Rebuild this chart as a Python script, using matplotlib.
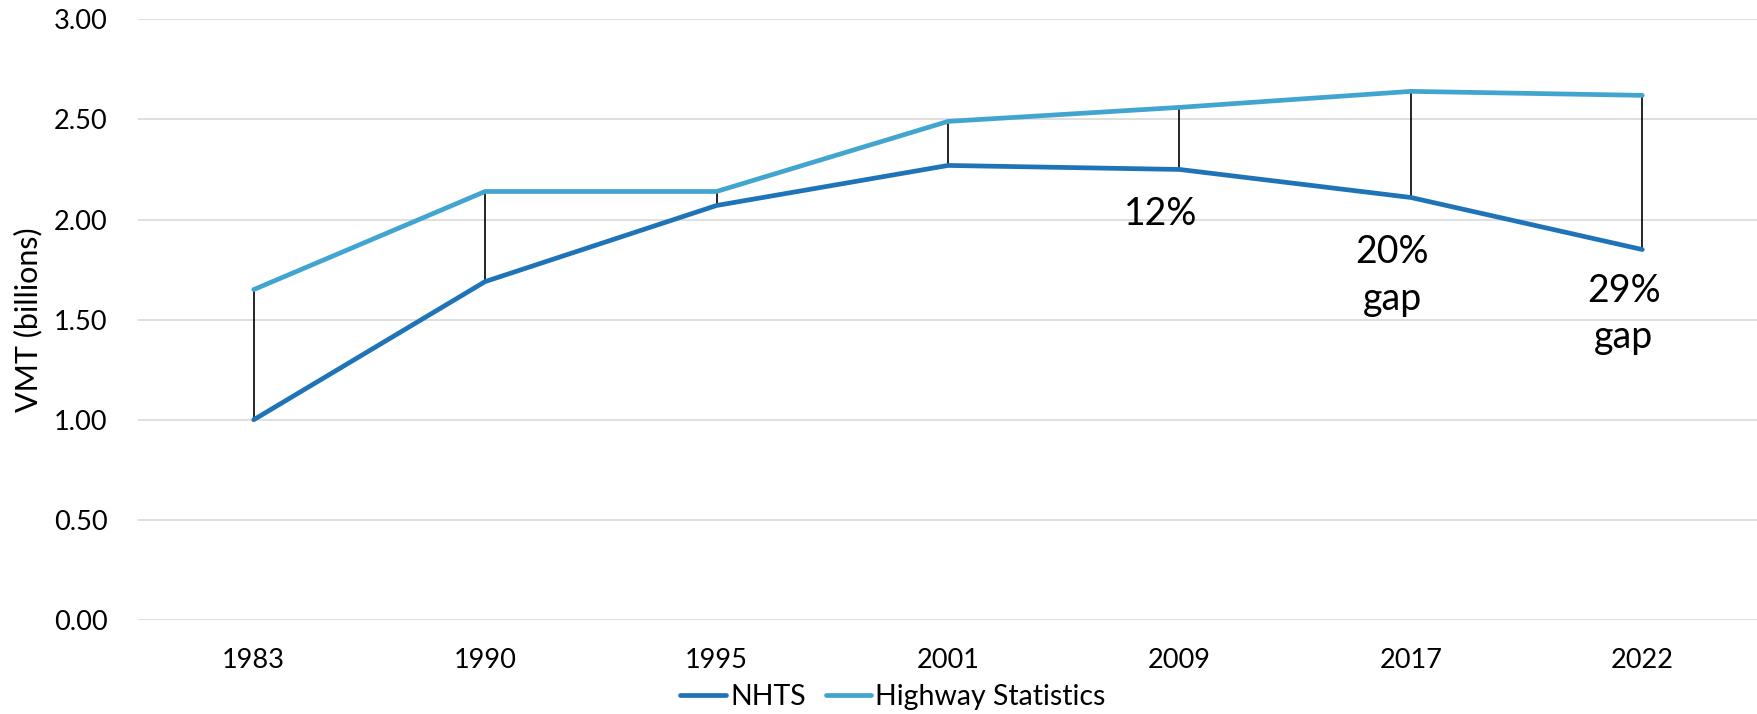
import numpy as np
import matplotlib
matplotlib.use('Agg')
import matplotlib.pyplot as plt

plt.rcParams['font.family'] = ['Lato', 'DejaVu Sans']

years = ['1983', '1990', '1995', '2001', '2009', '2017', '2022']
nhts = [1.00, 1.69, 2.07, 2.27, 2.25, 2.11, 1.85]
highway = [1.65, 2.14, 2.14, 2.49, 2.56, 2.64, 2.62]

# gap labels: (year index, label y, text suffix)
gap_notes = [(4, 2.03, ''), (5, 1.72, '\ngap'), (6, 1.53, '\ngap')]

nhts_color = '#1F74B8'
hw_color = '#42A5D0'

fig = plt.figure(figsize=(17.58, 7.14), dpi=100)
ax = fig.add_axes([0.0785, 0.1317, 0.9215, 0.8413])

x = np.arange(len(years))

# vertical connectors between the two series
for i in x:
    ax.plot([i, i], [nhts[i], highway[i]], color='black', linewidth=1.2, zorder=2)

ax.plot(x, nhts, color=nhts_color, linewidth=3.4, solid_capstyle='round', label='NHTS', zorder=3)
ax.plot(x, highway, color=hw_color, linewidth=3.4, solid_capstyle='round', label='Highway Statistics', zorder=3)

for i, ty, suffix in gap_notes:
    pct = round((highway[i] - nhts[i]) / highway[i] * 100)
    ax.text(i - 0.08, ty, f'{pct}%' + suffix, ha='center', va='center',
            fontsize=27, linespacing=1.35, color='black')

ax.set_xlim(-0.5, len(years) - 0.5)
ax.set_ylim(0, 3)
ax.set_yticks(np.arange(0, 3.01, 0.5))
ax.set_yticklabels([f'{v:.2f}' for v in np.arange(0, 3.01, 0.5)])
ax.set_xticks(x)
ax.set_xticklabels(years)
ax.tick_params(axis='both', length=0, labelsize=19.5)
ax.tick_params(axis='x', pad=20)
ax.tick_params(axis='y', pad=22)
ax.yaxis.grid(True, color='#D9D9D9', linewidth=1.2)
ax.set_axisbelow(True)
for s in ax.spines.values():
    s.set_visible(False)

ax.set_ylabel('VMT (billions)', fontsize=22, labelpad=8)

h, l = ax.get_legend_handles_labels()
fig.legend(h, l, loc='center', bbox_to_anchor=(0.508, 0.024), ncol=2, frameon=False,
           fontsize=20.5, handlelength=1.6, handletextpad=0.15, columnspacing=0.7)

fig.savefig('out.png', dpi=100)
